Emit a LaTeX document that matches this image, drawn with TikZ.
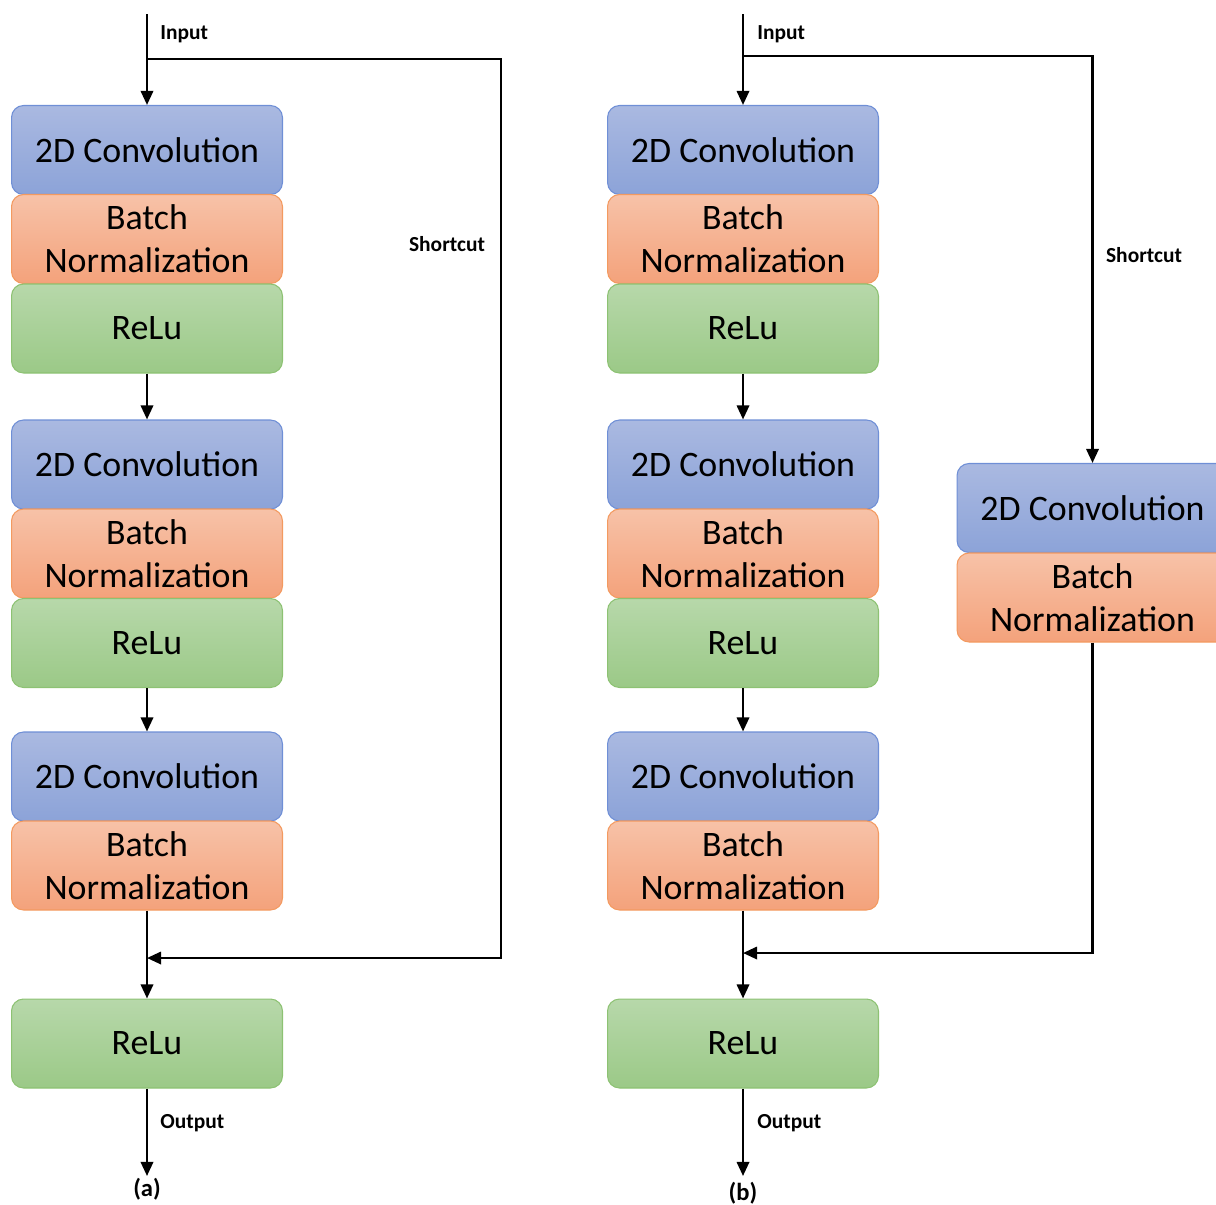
\documentclass[tikz,border=0pt]{standalone}
\usepackage{fontspec}
\setmainfont{Carlito}
\usepackage{tikz}
\usetikzlibrary{arrows.meta}

\definecolor{convtop}{HTML}{AAB9E1}
\definecolor{convbot}{HTML}{8CA3D8}
\definecolor{convline}{HTML}{6F8FD6}
\definecolor{bntop}{HTML}{F7C2A8}
\definecolor{bnbot}{HTML}{F4A27B}
\definecolor{bnline}{HTML}{F39A60}
\definecolor{relutop}{HTML}{B7D8AA}
\definecolor{relubot}{HTML}{9BC987}
\definecolor{reluline}{HTML}{8DC273}

\tikzset{
  blk/.style={rounded corners=0.24cm, minimum width=5.42cm, minimum height=1.78cm,
              align=center, line width=0.6pt, inner sep=2pt,
              font=\fontsize{20.4}{24.4}\selectfont},
  conv/.style={blk, draw=convline, top color=convtop, bottom color=convbot},
  bnorm/.style={blk, draw=bnline, top color=bntop, bottom color=bnbot},
  relu/.style={blk, draw=reluline, top color=relutop, bottom color=relubot},
  lbl/.style={font=\fontsize{12.2}{14}\bfseries\selectfont, inner sep=0pt},
  subcap/.style={font=\fontsize{14}{16}\bfseries\selectfont, inner sep=0pt},
  flow/.style={line width=1.4pt, -{Triangle[length=8pt, width=7pt]}}
}

\begin{document}
\begin{tikzpicture}[x=0.02cm, y=-0.02cm]
\clip (0,0) rectangle (1216,1204);

% left block (a)
\node[conv]  (cvA1) at (147, 150.0) {2D Convolution};
\node[bnorm] (bnA1) at (147, 239.0) {Batch\\Normalization};
\node[relu]  (rlA1) at (147, 328.5) {ReLu};
\node[conv]  (cvA2) at (147, 464.5) {2D Convolution};
\node[bnorm] (bnA2) at (147, 553.5) {Batch\\Normalization};
\node[relu]  (rlA2) at (147, 643.0) {ReLu};
\node[conv]  (cvA3) at (147, 776.5) {2D Convolution};
\node[bnorm] (bnA3) at (147, 865.5) {Batch\\Normalization};
\node[relu]  (rlA4) at (147,1043.5) {ReLu};

\coordinate (inA)    at (147,  14);
\coordinate (splitA) at (147,  59);
\coordinate (mergeA) at (147, 958);
\coordinate (outA)   at (147,1176);

\draw[flow] (inA) -- (cvA1.north);
\draw[flow] (rlA1.south) -- (cvA2.north);
\draw[flow] (rlA2.south) -- (cvA3.north);
\draw[flow] (bnA3.south) -- (rlA4.north);
\draw[flow] (splitA) -- (501, 59) -- (501, 958) -- (mergeA);
\draw[flow] (rlA4.south) -- (outA);

\node[lbl, anchor=west] (inLblA)  at (160,  34) {Input};
\node[lbl]              (scLblA)  at (447, 244) {Shortcut};
\node[lbl, anchor=west] (outLblA) at (160,1123) {Output};
\node[subcap]           (capA)    at (147,1189) {(a)};

% right block (b)
\node[conv]  (cvB1) at (743, 150.0) {2D Convolution};
\node[bnorm] (bnB1) at (743, 239.0) {Batch\\Normalization};
\node[relu]  (rlB1) at (743, 328.5) {ReLu};
\node[conv]  (cvB2) at (743, 464.5) {2D Convolution};
\node[bnorm] (bnB2) at (743, 553.5) {Batch\\Normalization};
\node[relu]  (rlB2) at (743, 643.0) {ReLu};
\node[conv]  (cvB3) at (743, 776.5) {2D Convolution};
\node[bnorm] (bnB3) at (743, 865.5) {Batch\\Normalization};
\node[relu]  (rlB4) at (743,1043.5) {ReLu};

% shortcut branch
\node[conv]  (cvS) at (1092.5, 508.0) {2D Convolution};
\node[bnorm] (bnS) at (1092.5, 597.5) {Batch\\Normalization};

\coordinate (inB)    at (743,  14);
\coordinate (splitB) at (743,  56);
\coordinate (mergeB) at (743, 953);
\coordinate (outB)   at (743,1176);

\draw[flow] (inB) -- (cvB1.north);
\draw[flow] (rlB1.south) -- (cvB2.north);
\draw[flow] (rlB2.south) -- (cvB3.north);
\draw[flow] (bnB3.south) -- (rlB4.north);
\draw[flow] (splitB) -| (cvS.north);
\draw[flow] (bnS.south) |- (mergeB);
\draw[flow] (rlB4.south) -- (outB);

\node[lbl, anchor=west] (inLblB)  at (757,  34) {Input};
\node[lbl]              (scLblB)  at (1144, 255) {Shortcut};
\node[lbl, anchor=west] (outLblB) at (757,1123) {Output};
\node[subcap]           (capB)    at (743,1193) {(b)};
\end{tikzpicture}
\end{document}
